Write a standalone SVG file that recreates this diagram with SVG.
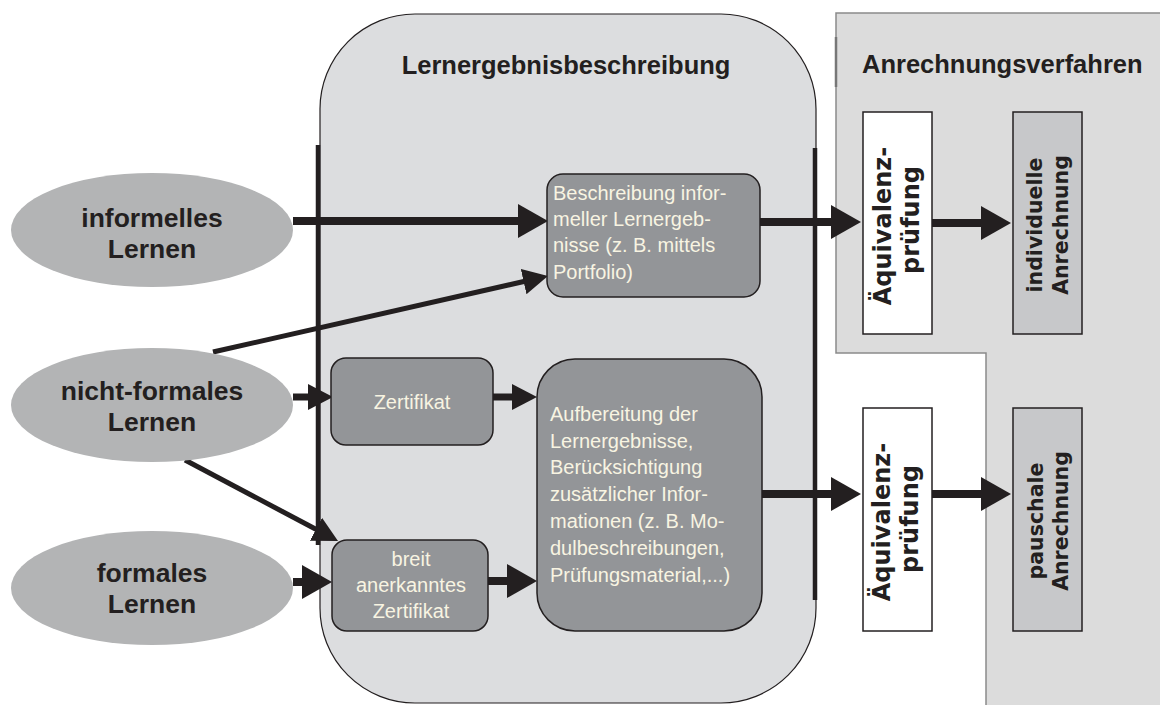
<svg xmlns="http://www.w3.org/2000/svg" width="1160" height="705" viewBox="0 0 1160 705">
<style>
.bg{fill:#ffffff}
.container{fill:#dcdddf;stroke:#231f20;stroke-width:1.2}
.panel{fill:#dcdcdc;stroke:#8a8a8a;stroke-width:1.5}
.thick{stroke:#231f20;stroke-width:4.5;fill:none}
.ell{fill:#b3b4b5}
.box{fill:#939598;stroke:#231f20;stroke-width:1.5}
.wbox{fill:#ffffff;stroke:#231f20;stroke-width:1.5}
.gbox{fill:#c7c8ca;stroke:#231f20;stroke-width:1.5}
.title{font-family:"Liberation Sans",Arial,sans-serif;font-weight:bold;font-size:25.5px;fill:#231f20}
.etext{font-family:"Liberation Sans",Arial,sans-serif;font-weight:bold;font-size:26.5px;fill:#231f20;text-anchor:middle}
.btext{font-family:"Liberation Sans",Arial,sans-serif;font-size:20px;fill:#f8f4e2}
.vbig{font-family:"DejaVu Sans",Verdana,sans-serif;font-weight:bold;font-size:24px;fill:#231f20;text-anchor:middle}
.vsmall{font-family:"DejaVu Sans",Verdana,sans-serif;font-weight:bold;font-size:20.5px;fill:#231f20;text-anchor:middle}
.c8{stroke:#231f20;stroke-width:8;fill:none}
.c7{stroke:#231f20;stroke-width:7;fill:none}
.c5{stroke:#231f20;stroke-width:5;fill:none}
</style>
<defs>
<marker id="ah" markerUnits="userSpaceOnUse" markerWidth="30" markerHeight="34" viewBox="0 0 30 34" refX="10" refY="17" orient="auto">
<path d="M0,0 L30,17 L0,34 Z" fill="#231f20"/>
</marker>
<marker id="ahs" markerUnits="userSpaceOnUse" markerWidth="25" markerHeight="26" viewBox="0 0 25 26" refX="8" refY="13" orient="auto">
<path d="M0,0 L25,13 L0,26 Z" fill="#231f20"/>
</marker>
</defs>
<rect class="bg" x="0" y="0" width="1160" height="705"/>

<g id="lernergebnisbeschreibung">
<rect class="container" x="320" y="14" width="496" height="689" rx="95" ry="95"/>
<line class="thick" x1="318" y1="145" x2="318" y2="545"/>
<line class="thick" x1="815" y1="148" x2="815" y2="600"/>
<text class="title" x="566" y="74" text-anchor="middle">Lernergebnisbeschreibung</text>
</g>

<g id="anrechnungsverfahren">
<polygon class="panel" points="836,13 1162,13 1162,707 986,707 986,353 836,353"/>
<line x1="836" y1="37" x2="836" y2="87" stroke="#777" stroke-width="2.5"/>
<text class="title" x="862" y="73">Anrechnungsverfahren</text>
</g>

<g id="connectors">
<path class="c8" d="M293,221 L528,221" marker-end="url(#ah)"/>
<path class="c8" d="M760,222 L841,222" marker-end="url(#ah)"/>
<path class="c8" d="M932,223 L991,223" marker-end="url(#ah)"/>
<path class="c7" d="M293,397 L316,397" marker-end="url(#ahs)"/>
<path class="c7" d="M493,397 L520,397" marker-end="url(#ahs)"/>
<path class="c8" d="M293,582 L312,582" marker-end="url(#ah)"/>
<path class="c8" d="M488,581 L517,581" marker-end="url(#ah)"/>
<path class="c8" d="M762,494 L841,494" marker-end="url(#ah)"/>
<path class="c8" d="M932,494 L991,494" marker-end="url(#ah)"/>
<path class="c5" d="M213,352 L531.4,279.8" marker-end="url(#ahs)"/>
<path class="c5" d="M185,460 L323,533" marker-end="url(#ahs)"/>
</g>

<g id="informelles">
<ellipse class="ell" cx="152" cy="230" rx="141" ry="57"/>
<text class="etext" x="152" y="227">informelles</text>
<text class="etext" x="152" y="258">Lernen</text>
</g>

<g id="nichtformales">
<ellipse class="ell" cx="152" cy="405" rx="141" ry="57"/>
<text class="etext" x="152" y="400">nicht-formales</text>
<text class="etext" x="152" y="431">Lernen</text>
</g>

<g id="formales">
<ellipse class="ell" cx="152" cy="588" rx="141" ry="57"/>
<text class="etext" x="152" y="582">formales</text>
<text class="etext" x="152" y="613">Lernen</text>
</g>

<g id="beschreibung">
<rect class="box" x="547" y="174" width="213" height="123" rx="16" ry="16"/>
<text class="btext" x="553" y="200">Beschreibung infor-</text>
<text class="btext" x="553" y="226">meller Lernergeb-</text>
<text class="btext" x="553" y="252">nisse (z. B. mittels</text>
<text class="btext" x="553" y="279">Portfolio)</text>
</g>

<g id="zertifikat">
<rect class="box" x="331" y="358" width="162" height="87" rx="15" ry="15"/>
<text class="btext" x="412" y="409" text-anchor="middle">Zertifikat</text>
</g>

<g id="breit">
<rect class="box" x="332" y="540" width="156" height="91" rx="15" ry="15"/>
<text class="btext" x="411" y="566" text-anchor="middle">breit</text>
<text class="btext" x="411" y="592" text-anchor="middle">anerkanntes</text>
<text class="btext" x="411" y="618" text-anchor="middle">Zertifikat</text>
</g>

<g id="aufbereitung">
<rect class="box" x="537" y="359" width="225" height="272" rx="38" ry="38"/>
<text class="btext" x="550" y="421">Aufbereitung der</text>
<text class="btext" x="550" y="448">Lernergebnisse,</text>
<text class="btext" x="550" y="474">Berücksichtigung</text>
<text class="btext" x="550" y="501">zusätzlicher Infor-</text>
<text class="btext" x="550" y="528">mationen (z. B. Mo-</text>
<text class="btext" x="550" y="555">dulbeschreibungen,</text>
<text class="btext" x="550" y="582">Prüfungsmaterial,...)</text>
</g>

<g id="aequivalenz1">
<rect class="wbox" x="863" y="112" width="69" height="222"/>
<g transform="translate(891,224) rotate(-90)">
<text class="vbig" x="-2" y="0">Äquivalenz-</text>
<text class="vbig" x="4" y="28">prüfung</text>
</g>
</g>

<g id="individuelle">
<rect class="gbox" x="1013" y="112" width="69" height="222"/>
<g transform="translate(1042,225) rotate(-90)">
<text class="vsmall" x="0" y="0">individuelle</text>
<text class="vsmall" x="0" y="26">Anrechnung</text>
</g>
</g>

<g id="aequivalenz2">
<rect class="wbox" x="863" y="408" width="69" height="223"/>
<g transform="translate(890,521) rotate(-90)">
<text class="vbig" x="-1" y="0">Äquivalenz-</text>
<text class="vbig" x="2" y="28">prüfung</text>
</g>
</g>

<g id="pauschale">
<rect class="gbox" x="1013" y="408" width="69" height="223"/>
<g transform="translate(1043,521) rotate(-90)">
<text class="vsmall" x="0" y="0">pauschale</text>
<text class="vsmall" x="0" y="25">Anrechnung</text>
</g>
</g>
</svg>
